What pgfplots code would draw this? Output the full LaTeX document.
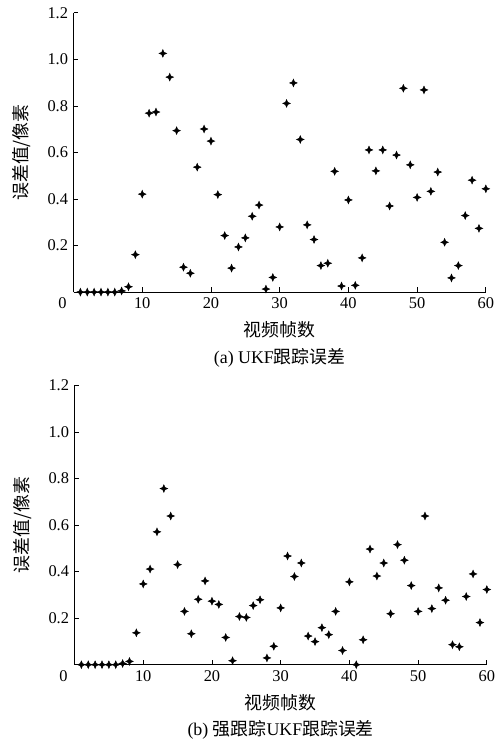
\documentclass[border=0pt]{standalone}
\usepackage{pgfplots}
\pgfplotsset{compat=1.18}
\usepackage{fontspec}
\setmainfont{Liberation Serif}
\newfontfamily\cjk{Noto Sans CJK SC}

% four-pointed star with a solid centre
\pgfdeclareplotmark{pdot}{%
  \pgfpathmoveto{\pgfqpoint{\pgfplotmarksize}{0pt}}%
  \pgfpathlineto{\pgfqpoint{0.3\pgfplotmarksize}{0.3\pgfplotmarksize}}%
  \pgfpathlineto{\pgfqpoint{0pt}{\pgfplotmarksize}}%
  \pgfpathlineto{\pgfqpoint{-0.3\pgfplotmarksize}{0.3\pgfplotmarksize}}%
  \pgfpathlineto{\pgfqpoint{-\pgfplotmarksize}{0pt}}%
  \pgfpathlineto{\pgfqpoint{-0.3\pgfplotmarksize}{-0.3\pgfplotmarksize}}%
  \pgfpathlineto{\pgfqpoint{0pt}{-\pgfplotmarksize}}%
  \pgfpathlineto{\pgfqpoint{0.3\pgfplotmarksize}{-0.3\pgfplotmarksize}}%
  \pgfpathclose
  \pgfusepathqfillstroke
  \pgfpathcircle{\pgfpointorigin}{0.45\pgfplotmarksize}%
  \pgfusepathqfill
}

\pgfplotsset{
  errax/.style={
    scale only axis,
    width=415pt, height=281pt,
    xmin=0, xmax=60, ymin=0, ymax=1.2,
    axis x line=bottom, axis y line=left,
    axis line style={-, line width=0.9pt},
    tick style={line width=0.9pt, black},
    tick align=inside,
    major tick length=5pt,
    xtick={0,10,20,30,40,50,60},
    xticklabels={\makebox[0pt][r]{0\hspace{7pt}},10,20,30,40,50,60},
    ytick={0.2,0.4,0.6,0.8,1.0,1.2},
    yticklabels={0.2,0.4,0.6,0.8,1.0,1.2},
    /pgf/number format/assume math mode=true,
    ticklabel style={font=\fontsize{16.5}{19}\selectfont},
    xticklabel style={yshift=-2pt},
    yticklabel style={xshift=-2pt},
    ylabel={\cjk 误差值/像素},
    xlabel={\cjk 视频帧数},
    ylabel style={at={(axis description cs:-0.125,0.5)}, anchor=center, font=\fontsize{18}{20}\selectfont},
    xlabel style={at={(axis description cs:0.5,0)}, anchor=center, yshift=-38pt, font=\fontsize{18}{20}\selectfont},
    clip=false,
  },
  errpts/.style={only marks, mark=pdot, mark size=3.8pt, black, line width=0.5pt},
}

\begin{document}
\begin{tikzpicture}
\path (-74pt,-449pt) rectangle (424pt,294pt);

\begin{axis}[errax, at={(0pt,0pt)}, anchor=south west]
\addplot[errpts] coordinates {
(1,0) (2,0) (3,0) (4,0) (5,0) (6,0) (7,0.005) (8,0.023) (9,0.161) (10,0.421)
(11,0.769) (12,0.774) (13,1.026) (14,0.924) (15,0.694) (16,0.107) (17,0.081) (18,0.537) (19,0.701) (20,0.649)
(21,0.419) (22,0.243) (23,0.103) (24,0.194) (25,0.233) (26,0.326) (27,0.374) (28,0.013) (29,0.063) (30,0.280)
(31,0.811) (32,0.899) (33,0.656) (34,0.289) (35,0.226) (36,0.114) (37,0.124) (38,0.519) (39,0.026) (40,0.396)
(41,0.029) (42,0.147) (43,0.611) (44,0.521) (45,0.611) (46,0.370) (47,0.589) (48,0.876) (49,0.547) (50,0.407)
(51,0.869) (52,0.433) (53,0.516) (54,0.214) (55,0.061) (56,0.114) (57,0.329) (58,0.481) (59,0.274) (60,0.444)
};
\node[font=\fontsize{18}{20}\selectfont] at (axis description cs:0.5,0) [yshift=-66pt] {(a) UKF{\cjk 跟踪误差}};
\end{axis}

\begin{axis}[errax, at={(1pt,-375pt)}, anchor=south west]
\addplot[errpts] coordinates {
(1,0) (2,0) (3,0) (4,0) (5,0) (6,0) (7,0.005) (8,0.014) (9,0.137) (10,0.347)
(11,0.411) (12,0.571) (13,0.757) (14,0.639) (15,0.430) (16,0.229) (17,0.133) (18,0.281) (19,0.360) (20,0.273)
(21,0.259) (22,0.117) (23,0.017) (24,0.207) (25,0.203) (26,0.254) (27,0.279) (28,0.029) (29,0.079) (30,0.244)
(31,0.467) (32,0.379) (33,0.437) (34,0.123) (35,0.099) (36,0.159) (37,0.129) (38,0.229) (39,0.061) (40,0.356)
(41,0.0) (42,0.107) (43,0.497) (44,0.381) (45,0.437) (46,0.219) (47,0.516) (48,0.449) (49,0.340) (50,0.229)
(51,0.639) (52,0.241) (53,0.330) (54,0.277) (55,0.086) (56,0.077) (57,0.293) (58,0.390) (59,0.181) (60,0.323)
};
\node[font=\fontsize{18}{20}\selectfont] at (axis description cs:0.5,0) [yshift=-66pt] {(b) {\cjk 强跟踪}UKF{\cjk 跟踪误差}};
\end{axis}
\end{tikzpicture}
\end{document}
